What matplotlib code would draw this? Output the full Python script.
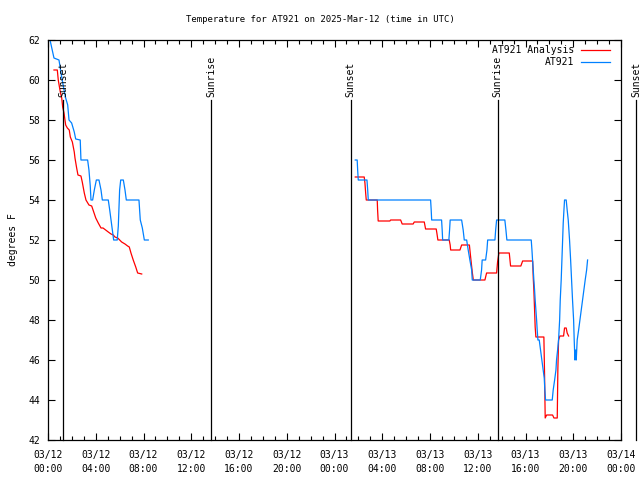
import matplotlib
matplotlib.use('Agg')
import matplotlib.pyplot as plt
import matplotlib.dates as mdates
import pandas as pd

# hours after 2025-03-12 00:00 UTC, temperature in F
obs_h1 = [0.17, 0.5, 0.92, 1.09, 1.31, 1.48, 1.65, 1.76, 1.98, 2.2, 2.32, 2.7, 2.76,
          3.32, 3.43, 3.54, 3.6, 3.74, 3.88, 4.05, 4.27, 4.44, 4.55, 5.05, 5.17, 5.28,
          5.39, 5.5, 5.8, 5.89, 6.0, 6.09, 6.31, 6.45, 6.56, 7.62, 7.73, 7.9, 8.07, 8.4]
obs_v1 = [62.0, 61.1, 61.0, 60.35, 59.6, 59.1, 58.75, 58.0, 57.85, 57.4, 57.05, 57.0, 56.0,
          56.0, 55.5, 54.7, 54.0, 54.0, 54.5, 55.0, 55.0, 54.5, 54.0, 54.0, 53.5, 53.0,
          52.5, 52.0, 52.0, 52.7, 54.5, 55.0, 55.0, 54.5, 54.0, 54.0, 53.0, 52.6, 52.0, 52.0]

obs_h2 = [25.74, 25.9, 25.94, 25.99, 26.72, 26.78, 26.83, 32.05, 32.1, 32.14, 32.97, 33.02,
          33.06, 33.58, 33.64, 33.69, 34.65, 34.78, 34.87, 35.07, 35.2, 35.34, 35.49, 35.54,
          36.21, 36.32, 36.37, 36.66, 36.77, 36.83, 37.44, 37.5, 37.58, 38.27, 38.36, 38.44,
          40.48, 40.54, 40.59, 40.65, 40.7, 40.76, 40.81, 40.87, 40.93, 40.98, 41.04, 41.15,
          41.26, 41.37, 41.48, 41.57, 41.62, 41.68, 42.24, 42.32, 42.44, 42.55, 42.6, 42.69,
          42.77, 42.86, 42.91, 42.99, 43.05, 43.11, 43.16, 43.22, 43.27, 43.41, 43.49, 43.58,
          43.69, 43.78, 43.86, 43.94, 44.03, 44.08, 44.14, 44.2, 44.25, 44.33, 44.45, 44.56,
          44.67, 44.78, 44.89, 45.0, 45.12, 45.2]
obs_v2 = [56.0, 56.0, 55.5, 55.0, 55.0, 54.5, 54.0, 54.0, 53.5, 53.0, 53.0, 52.5,
          52.0, 52.0, 52.5, 53.0, 53.0, 52.5, 52.0, 52.0, 51.5, 51.0, 50.5, 50.0,
          50.0, 50.5, 51.0, 51.0, 51.5, 52.0, 52.0, 52.5, 53.0, 53.0, 52.5, 52.0,
          52.0, 51.5, 51.0, 50.5, 50.0, 49.5, 49.0, 48.5, 48.0, 47.5, 47.0, 47.0,
          46.5, 46.0, 45.5, 45.1, 44.5, 44.0, 44.0, 44.5, 45.0, 45.5, 46.0, 46.5,
          47.0, 48.0, 49.0, 50.0, 51.0, 52.0, 52.85, 53.5, 54.0, 54.0, 53.5, 53.0,
          52.0, 51.0, 50.0, 49.0, 48.0, 47.0, 46.0, 46.5, 46.0, 47.0, 47.5, 48.0,
          48.5, 49.0, 49.5, 50.0, 50.5, 51.0]

ana_h1 = [0.5, 0.78, 0.86, 1.03, 1.15, 1.23, 1.34, 1.48, 1.62, 1.78, 1.87, 2.04, 2.2,
          2.26, 2.4, 2.51, 2.76, 2.87, 3.04, 3.18, 3.43, 3.66, 3.83, 4.0, 4.21, 4.44,
          4.61, 4.83, 5.05, 5.28, 5.47, 5.61, 5.84, 6.17, 6.45, 6.67, 6.81, 6.95, 7.14,
          7.35, 7.51, 7.85]
ana_v1 = [60.5, 60.5, 60.0, 59.4, 59.1, 58.65, 58.35, 57.75, 57.6, 57.5, 57.15, 56.9, 56.4,
          56.1, 55.6, 55.25, 55.2, 54.9, 54.35, 54.0, 53.75, 53.7, 53.4, 53.1, 52.85, 52.6,
          52.6, 52.5, 52.4, 52.3, 52.25, 52.15, 52.1, 51.9, 51.8, 51.7, 51.65, 51.35, 51.0,
          50.65, 50.35, 50.3]

ana_h2 = [25.74, 26.49, 26.55, 26.61, 26.66, 27.58, 27.61, 27.66, 28.64, 28.7, 29.54, 29.67,
          30.59, 30.68, 31.52, 31.63, 32.52, 32.58, 32.66, 33.61, 33.69, 33.73, 34.51, 34.65,
          35.2, 35.3, 35.43, 35.55, 35.63, 36.6, 36.74, 37.58, 37.66, 37.77, 38.64, 38.75,
          39.61, 39.76, 40.6, 40.65, 40.7, 40.76, 40.81, 40.87, 41.54, 41.6, 41.65, 41.77,
          42.27, 42.38, 42.66, 42.71, 42.77, 42.88, 43.19, 43.27, 43.41, 43.49, 43.61]
ana_v2 = [55.15, 55.15, 54.85, 54.35, 54.0, 54.0, 53.5, 52.95, 52.95, 53.0, 53.0, 52.8,
          52.8, 52.9, 52.9, 52.55, 52.55, 52.33, 52.0, 52.0, 51.75, 51.5, 51.5, 51.75,
          51.75, 51.75, 51.0, 50.35, 50.0, 50.0, 50.35, 50.35, 50.9, 51.35, 51.35, 50.7,
          50.7, 50.95, 50.95, 50.1, 49.5, 48.5, 47.65, 47.15, 47.15, 45.15, 43.1, 43.25,
          43.25, 43.1, 43.1, 45.5, 47.0, 47.2, 47.2, 47.6, 47.6, 47.35, 47.2]

sun_labels = ['Sunset', 'Sunrise', 'Sunset', 'Sunrise', 'Sunset']
sun_hours = [1.26, 13.65, 25.35, 37.68, 49.25]

start = pd.Timestamp('2025-03-12 00:00')


def to_time(hours):
    return start + pd.to_timedelta(hours, unit='h')


plt.rcParams['font.family'] = 'DejaVu Sans Mono'
plt.rcParams['font.size'] = 7

fig = plt.figure(figsize=(6.4, 4.8), dpi=100)
ax = fig.add_axes([48 / 640, 40 / 480, 573 / 640, 400 / 480])

red = '#ff0000'
blue = '#0080ff'
ax.plot(to_time(ana_h1), ana_v1, color=red, lw=0.9)
ax.plot(to_time(ana_h2), ana_v2, color=red, lw=0.9)
ax.plot(to_time(obs_h1), obs_v1, color=blue, lw=0.9)
ax.plot(to_time(obs_h2), obs_v2, color=blue, lw=0.9)

for lab, h in zip(sun_labels, sun_hours):
    t = to_time(h)
    ax.plot([t, t], [42, 59], color='black', lw=0.9, clip_on=False)
    ax.text(t, 59.15, lab, rotation=90, ha='center', va='bottom', clip_on=False)

ax.set_xlim(to_time(0), to_time(48))
ax.set_ylim(42, 62)
ax.set_yticks(range(42, 63, 2))
ax.xaxis.set_major_locator(mdates.HourLocator(byhour=range(0, 24, 4)))
ax.xaxis.set_minor_locator(mdates.HourLocator())
ax.xaxis.set_major_formatter(mdates.DateFormatter('%m/%d\n%H:%M'))
ax.tick_params(which='both', direction='in', top=True, right=True, width=0.8)
ax.tick_params(which='major', length=5)
ax.tick_params(which='minor', length=3)
ax.tick_params(axis='x', pad=7)
ax.tick_params(axis='y', pad=5.5)
for lbl in ax.get_xticklabels():
    lbl.set_linespacing(1.5)
for s in ax.spines.values():
    s.set_linewidth(0.9)

# legend, text right-aligned in gnuplot style
ax.text(0.918, 0.975, 'AT921 Analysis', transform=ax.transAxes, ha='right', va='center')
ax.plot([0.930, 0.981], [0.975, 0.975], color=red, lw=0.9, transform=ax.transAxes)
ax.text(0.918, 0.945, 'AT921', transform=ax.transAxes, ha='right', va='center')
ax.plot([0.930, 0.981], [0.945, 0.945], color=blue, lw=0.9, transform=ax.transAxes)

ax.set_ylabel('degrees F', labelpad=8)
fig.text(0.5, 1 - 20 / 480, 'Temperature for AT921 on 2025-Mar-12 (time in UTC)',
         ha='center', va='center', fontsize=6.5)

fig.savefig('out.png', dpi=100)
